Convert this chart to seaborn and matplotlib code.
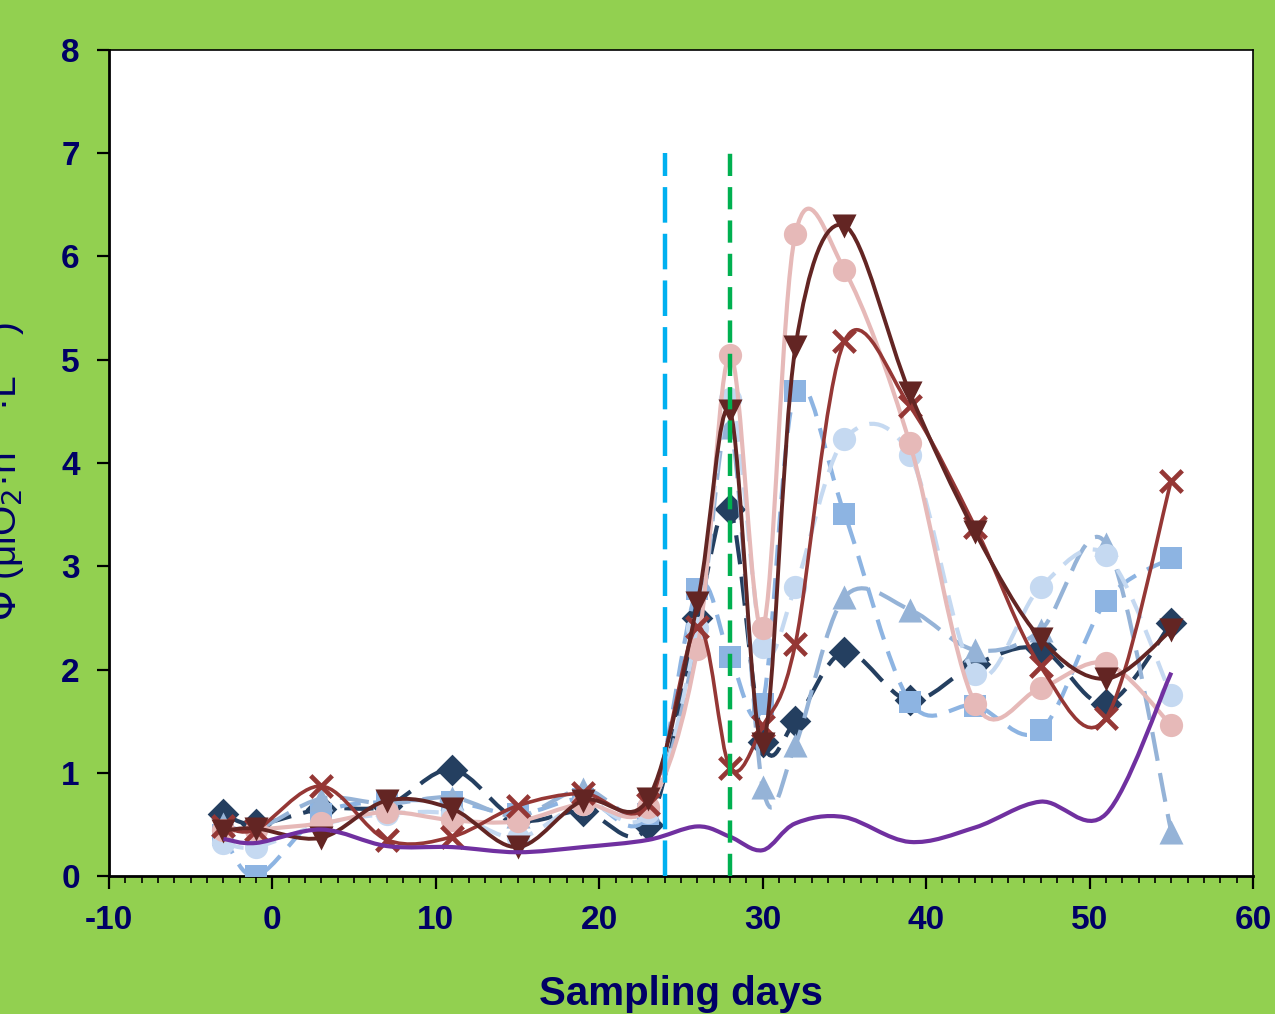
import numpy as np
import pandas as pd
import matplotlib
matplotlib.use("Agg")
import matplotlib.pyplot as plt
from matplotlib.path import Path
from matplotlib.patches import PathPatch
from matplotlib.ticker import MultipleLocator
import seaborn as sns

days = [-3, -1, 3, 7, 11, 15, 19, 23, 26, 28, 30, 32, 35, 39, 43, 47, 51, 55]

navy_diamond = [0.60, 0.50, 0.65, 0.68, 1.03, 0.55, 0.63, 0.49, 2.50, 3.55, 1.30, 1.50, 2.17, 1.70, 2.05, 2.20, 1.67, 2.45]
blue_square = [0.40, 0.00, 0.60, 0.72, 0.72, 0.60, 0.75, 0.60, 2.78, 2.12, 1.67, 4.70, 3.51, 1.69, 1.65, 1.41, 2.66, 3.08]
blue_triangle = [0.50, 0.45, 0.75, 0.70, 0.76, 0.58, 0.84, 0.65, 2.30, 4.35, 0.86, 1.27, 2.70, 2.58, 2.19, 2.38, 3.22, 0.43]
pale_circle = [0.32, 0.28, 0.50, 0.60, 0.60, 0.37, 0.70, 0.62, 2.40, 4.62, 2.22, 2.80, 4.23, 4.08, 1.96, 2.80, 3.11, 1.75]
pink_circle = [0.45, 0.45, 0.51, 0.62, 0.54, 0.53, 0.70, 0.67, 2.20, 5.05, 2.40, 6.22, 5.87, 4.19, 1.67, 1.82, 2.06, 1.46]
red_cross = [0.48, 0.45, 0.87, 0.35, 0.38, 0.68, 0.80, 0.70, 2.41, 1.05, 1.45, 2.25, 5.18, 4.55, 3.38, 2.03, 1.53, 3.83]
darkred_tri = [0.44, 0.46, 0.37, 0.73, 0.65, 0.28, 0.73, 0.75, 2.64, 4.50, 1.28, 5.12, 6.30, 4.68, 3.33, 2.30, 1.91, 2.38]
purple = [0.36, 0.32, 0.45, 0.29, 0.28, 0.23, 0.28, 0.35, 0.48, 0.38, 0.25, 0.51, 0.57, 0.33, 0.47, 0.72, 0.60, 1.97]

# name, values, colour, marker, marker size, dash pattern, line width
series = [
    ("navy", navy_diamond, "#243F60", "D", 260, (0, (7, 3)), 3.0),
    ("square", blue_square, "#8DB4E2", "s", 250, (0, (5, 3)), 3.0),
    ("triangle", blue_triangle, "#95B3D7", "^", 300, (0, (7, 3)), 3.0),
    ("pale", pale_circle, "#C5D9F1", "o", 280, (0, (5, 3)), 3.0),
    ("pink", pink_circle, "#E6B9B8", "o", 280, "-", 3.0),
    ("red", red_cross, "#953735", "x", 240, "-", 2.6),
    ("darkred", darkred_tri, "#632523", "v", 300, "-", 2.8),
    ("purple", purple, "#7030A0", None, 0, "-", 3.0),
]


def smooth_path(xs, ys):
    # Excel style smoothed line: cubic bezier with catmull-rom control points
    pts = np.column_stack([xs, ys]).astype(float)
    n = len(pts)
    verts = [pts[0]]
    codes = [Path.MOVETO]
    for i in range(n - 1):
        p_prev = pts[i - 1] if i > 0 else pts[i]
        p_next2 = pts[i + 2] if i + 2 < n else pts[i + 1]
        c1 = pts[i] + (pts[i + 1] - p_prev) / 6.0
        c2 = pts[i + 1] - (p_next2 - pts[i]) / 6.0
        verts += [c1, c2, pts[i + 1]]
        codes += [Path.CURVE4] * 3
    return Path(verts, codes)


sns.set_style("white")
navy_text = "#000066"
plt.rcParams["font.family"] = ["Liberation Sans", "DejaVu Sans"]
plt.rcParams["axes.unicode_minus"] = False

fig = plt.figure(figsize=(12.75, 10.14), dpi=100, facecolor="#92D050")
ax = fig.add_axes([109 / 1275, 138 / 1014, 1144 / 1275, 826 / 1014])
ax.set_facecolor("white")

z = 3
for name, vals, color, marker, size, ls, lw in series:
    patch = PathPatch(smooth_path(days, vals), facecolor="none", edgecolor=color,
                      lw=lw, linestyle=ls, zorder=z, capstyle="butt")
    ax.add_patch(patch)
    if marker is not None:
        df = pd.DataFrame({"day": days, "value": vals})
        if marker == "x":
            sns.scatterplot(data=df, x="day", y="value", marker=marker, s=size,
                            color=color, linewidth=3.4, ax=ax, zorder=z + 0.5, legend=False)
        else:
            sns.scatterplot(data=df, x="day", y="value", marker=marker, s=size,
                            color=color, edgecolor=color, linewidth=0, ax=ax,
                            zorder=z + 0.5, legend=False)
    z += 1

ax.vlines(24, 0, 7, colors="#00B0F0", lw=3.2, linestyles=(0, (8, 2.5)), zorder=12)
ax.vlines(28, 0, 7, colors="#00B050", lw=3.2, linestyles=(0, (5, 2.5)), zorder=12)

ax.set_xlim(-10, 60)
ax.set_ylim(0, 8)
ax.xaxis.set_major_locator(MultipleLocator(10))
ax.xaxis.set_minor_locator(MultipleLocator(1))
ax.yaxis.set_major_locator(MultipleLocator(1))

for sp in ax.spines.values():
    sp.set_color("black")
    sp.set_linewidth(1.2)
ax.spines["left"].set_linewidth(2)
ax.spines["bottom"].set_linewidth(2)

ax.tick_params(axis="x", which="major", direction="out", length=9, width=1.6,
               colors="black", labelcolor=navy_text, labelsize=24, pad=12, bottom=True)
ax.tick_params(axis="x", which="minor", direction="out", length=5, width=1.2,
               colors="black", bottom=True)
ax.tick_params(axis="y", which="major", direction="out", length=9, width=1.6,
               colors="black", labelcolor=navy_text, labelsize=24, pad=12, left=True)
for lab in ax.get_xticklabels() + ax.get_yticklabels():
    lab.set_fontweight("bold")

ax.set_xlabel("Sampling days", fontsize=29, fontweight="bold", color=navy_text, labelpad=28)
ax.set_ylabel("")
fig.text(26 / 1275, 0.535, r"$\Phi$ (μlO$_2$·h$^{-1}$·L$^{-1}$)", rotation=90,
         ha="right", va="center", fontsize=28, color=navy_text)

fig.savefig("out.png", dpi=100, facecolor=fig.get_facecolor())
